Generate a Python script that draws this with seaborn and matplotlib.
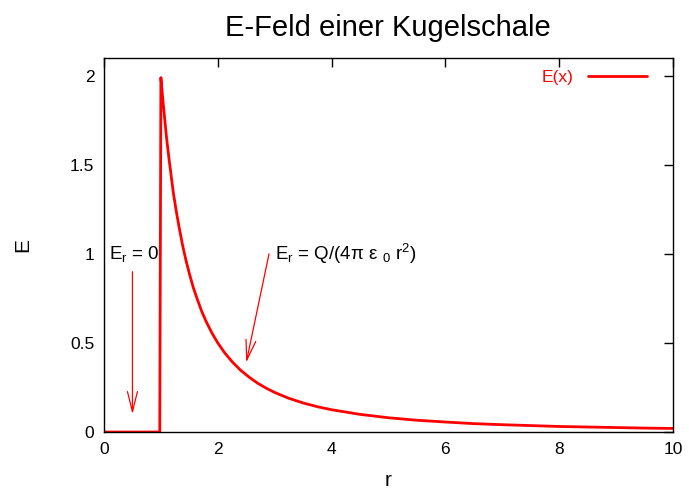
import matplotlib
matplotlib.use("Agg")
import matplotlib.pyplot as plt
import seaborn as sns
import pandas as pd

# Data
r_values = [0.0, 0.98, 1.0, 1.03, 1.06, 1.1, 1.14, 1.18, 1.22, 1.27, 1.32, 1.38, 1.44, 1.5,
            1.57, 1.64, 1.72, 1.8, 1.9, 2.0, 2.12, 2.25, 2.4, 2.55, 2.7, 2.85, 3.0, 3.25,
            3.5, 3.75, 4.0, 4.5, 5.0, 5.5, 6.0, 6.5, 7.0, 7.5, 8.0, 8.5, 9.0, 9.5, 10.0]
E_values = [0.0, 0.0, 1.99, 1.88, 1.78, 1.65, 1.54, 1.44, 1.34, 1.24, 1.15, 1.05, 0.965, 0.89,
            0.81, 0.745, 0.675, 0.617, 0.554, 0.50, 0.445, 0.395, 0.347, 0.308, 0.274, 0.246, 0.222, 0.189,
            0.163, 0.142, 0.125, 0.099, 0.080, 0.066, 0.056, 0.047, 0.041, 0.036, 0.031, 0.028, 0.025, 0.022, 0.020]
series_label = "E(x)"
title = "E-Feld einer Kugelschale"
xlabel = "r"
ylabel = "E"
x_ticks = [0, 2, 4, 6, 8, 10]
y_ticks = [0, 0.5, 1, 1.5, 2]
y_tick_labels = ["0", "0.5", "1", "1.5", "2"]

sns.set_theme(style="white")
plt.rcParams["font.family"] = ["Liberation Sans", "DejaVu Sans"]
plt.rcParams["mathtext.default"] = "regular"
plt.rcParams["text.color"] = "black"
plt.rcParams["axes.labelcolor"] = "black"

df = pd.DataFrame({"r": r_values, "E": E_values, "s": series_label})

fig = plt.figure(figsize=(6.89, 4.90), dpi=100)
ax = fig.add_axes([104 / 689, (490 - 432) / 490, (673 - 104) / 689, (432 - 58) / 490])

sns.lineplot(data=df, x="r", y="E", hue="s", palette=["#ff0000"], sort=False,
             estimator=None, linewidth=2.0, ax=ax)

ax.set_xlim(0, 10)
ax.set_ylim(0, 2.1)
ax.set_xticks(x_ticks)
ax.set_xticklabels([str(t) for t in x_ticks])
ax.set_yticks(y_ticks)
ax.set_yticklabels(y_tick_labels)
ax.tick_params(direction="in", length=6.5, width=1, top=True, right=True,
               labelsize=12.5, colors="black", pad=7)
for sp in ax.spines.values():
    sp.set_visible(True)
    sp.set_color("black")
    sp.set_linewidth(1.0)

ax.set_xlabel(xlabel, fontsize=15, labelpad=10, color="black")
ax.set_ylabel(ylabel, fontsize=15, labelpad=27, color="black")
fig.text(388 / 689, 1 - 36 / 490, title, ha="center", va="baseline", fontsize=21, color="black")

leg = ax.legend(loc="upper right", frameon=False, markerfirst=False,
                handlelength=3.4, fontsize=12.5, labelcolor="#ff0000",
                borderaxespad=0.3, bbox_to_anchor=(0.975, 1.0))

arrow_kw = dict(arrowstyle="->,head_length=1.2,head_width=0.3", color="#ff0000",
                lw=0.9, shrinkA=0, shrinkB=0)
ax.annotate("", xy=(0.5, 0.1), xytext=(0.5, 0.9), arrowprops=arrow_kw)
ax.annotate("", xy=(2.5, 0.39), xytext=(2.9, 1.0), arrowprops=arrow_kw)
ax.text(0.08, 1.0, "E$_r$ = 0", fontsize=13.5, ha="left", va="center", color="black")
ax.text(3.0, 1.0, "E$_r$ = Q/(4π ε $_0$ r$^2$)", fontsize=13.5, ha="left", va="center", color="black")

fig.savefig("out.png", dpi=100)
